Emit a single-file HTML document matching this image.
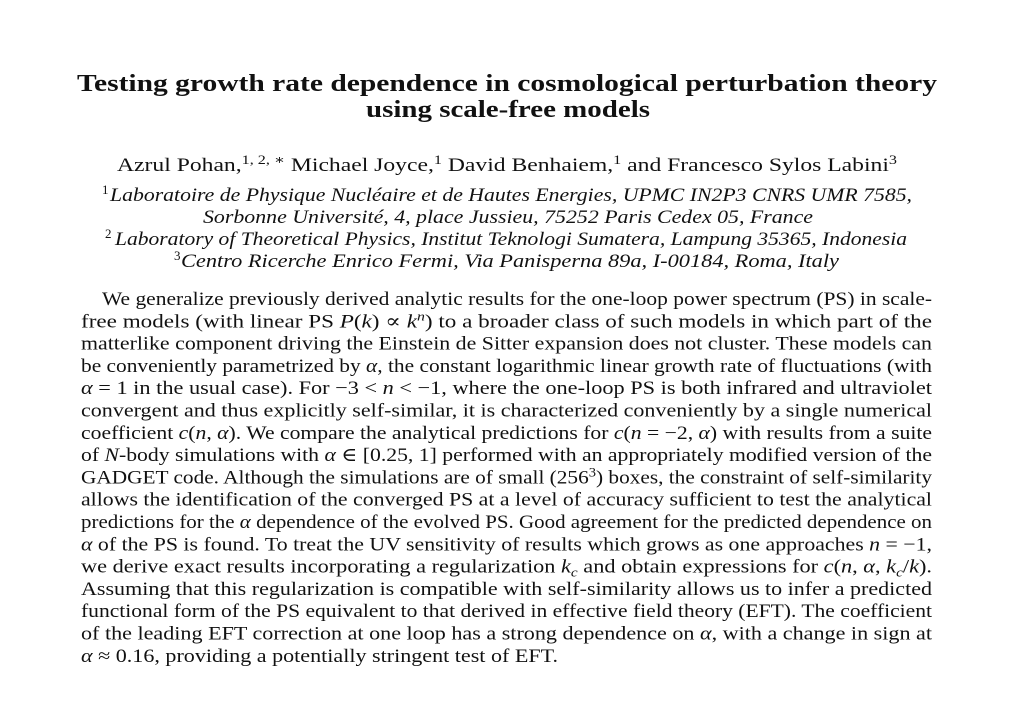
<!DOCTYPE html>
<html>
<head>
<meta charset="utf-8">
<style>
  html, body { margin: 0; padding: 0; background: #ffffff; }
  svg { display: block; }
  text { font-family: "Liberation Serif", "DejaVu Serif", serif; fill: #111111; }
  .i { font-style: italic; }
</style>
</head>
<body>
<svg width="1024" height="704" viewBox="0 0 1024 704" xmlns="http://www.w3.org/2000/svg">
  <rect width="1024" height="704" fill="#ffffff"/>

  <!-- Title -->
  <text x="77" y="91" font-size="24" font-weight="bold" textLength="860" lengthAdjust="spacingAndGlyphs">Testing growth rate dependence in cosmological perturbation theory</text>
  <text x="366" y="117" font-size="24" font-weight="bold" textLength="284" lengthAdjust="spacingAndGlyphs">using scale-free models</text>

  <!-- Authors -->
  <text x="117" y="171" font-size="19" textLength="780" lengthAdjust="spacingAndGlyphs">Azrul Pohan,<tspan font-size="13" dy="-7">1, 2, ∗</tspan><tspan dy="7"> Michael Joyce,</tspan><tspan font-size="13" dy="-7">1</tspan><tspan dy="7"> David Benhaiem,</tspan><tspan font-size="13" dy="-7">1</tspan><tspan dy="7"> and Francesco Sylos Labini</tspan><tspan font-size="13" dy="-7">3</tspan></text>

  <!-- Affiliations -->
  <text x="102" y="194" font-size="13">1</text>
  <text class="i" x="110" y="201" font-size="18.5" textLength="802" lengthAdjust="spacingAndGlyphs">Laboratoire de Physique Nucléaire et de Hautes Energies, UPMC IN2P3 CNRS UMR 7585,</text>
  <text class="i" x="203" y="223" font-size="18.5" textLength="610" lengthAdjust="spacingAndGlyphs">Sorbonne Université, 4, place Jussieu, 75252 Paris Cedex 05, France</text>
  <text x="105" y="238" font-size="13">2</text>
  <text class="i" x="115" y="245" font-size="18.5" textLength="792" lengthAdjust="spacingAndGlyphs">Laboratory of Theoretical Physics, Institut Teknologi Sumatera, Lampung 35365, Indonesia</text>
  <text x="174" y="260" font-size="13">3</text>
  <text class="i" x="181" y="267" font-size="18.5" textLength="658" lengthAdjust="spacingAndGlyphs">Centro Ricerche Enrico Fermi, Via Panisperna 89a, I-00184, Roma, Italy</text>

  <!-- Abstract -->
  <g font-size="19">
    <text x="102" y="305" textLength="830" lengthAdjust="spacingAndGlyphs">We generalize previously derived analytic results for the one-loop power spectrum (PS) in scale-</text>
    <text x="81" y="327.3" textLength="851" lengthAdjust="spacingAndGlyphs">free models (with linear PS <tspan class="i">P</tspan>(<tspan class="i">k</tspan>) ∝ <tspan class="i">k</tspan><tspan class="i" font-size="13" dy="-7">n</tspan><tspan dy="7">) to a broader class of such models in which part of the</tspan></text>
    <text x="81" y="349.6" textLength="851" lengthAdjust="spacingAndGlyphs">matterlike component driving the Einstein de Sitter expansion does not cluster. These models can</text>
    <text x="81" y="371.9" textLength="851" lengthAdjust="spacingAndGlyphs">be conveniently parametrized by <tspan class="i">α</tspan>, the constant logarithmic linear growth rate of fluctuations (with</text>
    <text x="81" y="394.2" textLength="851" lengthAdjust="spacingAndGlyphs"><tspan class="i">α</tspan> = 1 in the usual case). For −3 &lt; <tspan class="i">n</tspan> &lt; −1, where the one-loop PS is both infrared and ultraviolet</text>
    <text x="81" y="416.5" textLength="851" lengthAdjust="spacingAndGlyphs">convergent and thus explicitly self-similar, it is characterized conveniently by a single numerical</text>
    <text x="81" y="438.8" textLength="851" lengthAdjust="spacingAndGlyphs">coefficient <tspan class="i">c</tspan>(<tspan class="i">n</tspan>, <tspan class="i">α</tspan>). We compare the analytical predictions for <tspan class="i">c</tspan>(<tspan class="i">n</tspan> = −2, <tspan class="i">α</tspan>) with results from a suite</text>
    <text x="81" y="461.1" textLength="851" lengthAdjust="spacingAndGlyphs">of <tspan class="i">N</tspan>-body simulations with <tspan class="i">α</tspan> ∈ [0.25, 1] performed with an appropriately modified version of the</text>
    <text x="81" y="483.4" textLength="851" lengthAdjust="spacingAndGlyphs">GADGET code. Although the simulations are of small (256<tspan font-size="13" dy="-7">3</tspan><tspan dy="7">) boxes, the constraint of self-similarity</tspan></text>
    <text x="81" y="505.7" textLength="851" lengthAdjust="spacingAndGlyphs">allows the identification of the converged PS at a level of accuracy sufficient to test the analytical</text>
    <text x="81" y="528" textLength="851" lengthAdjust="spacingAndGlyphs">predictions for the <tspan class="i">α</tspan> dependence of the evolved PS. Good agreement for the predicted dependence on</text>
    <text x="81" y="550.3" textLength="851" lengthAdjust="spacingAndGlyphs"><tspan class="i">α</tspan> of the PS is found. To treat the UV sensitivity of results which grows as one approaches <tspan class="i">n</tspan> = −1,</text>
    <text x="81" y="572.6" textLength="851" lengthAdjust="spacingAndGlyphs">we derive exact results incorporating a regularization <tspan class="i">k</tspan><tspan class="i" font-size="13" dy="4">c</tspan><tspan dy="-4"> and obtain expressions for </tspan><tspan class="i">c</tspan>(<tspan class="i">n</tspan>, <tspan class="i">α</tspan>, <tspan class="i">k</tspan><tspan class="i" font-size="13" dy="4">c</tspan><tspan dy="-4">/</tspan><tspan class="i">k</tspan>).</text>
    <text x="81" y="594.9" textLength="851" lengthAdjust="spacingAndGlyphs">Assuming that this regularization is compatible with self-similarity allows us to infer a predicted</text>
    <text x="81" y="617.2" textLength="851" lengthAdjust="spacingAndGlyphs">functional form of the PS equivalent to that derived in effective field theory (EFT). The coefficient</text>
    <text x="81" y="639.5" textLength="851" lengthAdjust="spacingAndGlyphs">of the leading EFT correction at one loop has a strong dependence on <tspan class="i">α</tspan>, with a change in sign at</text>
    <text x="81" y="661.8" textLength="477" lengthAdjust="spacingAndGlyphs"><tspan class="i">α</tspan> ≈ 0.16, providing a potentially stringent test of EFT.</text>
  </g>
</svg>
</body>
</html>
